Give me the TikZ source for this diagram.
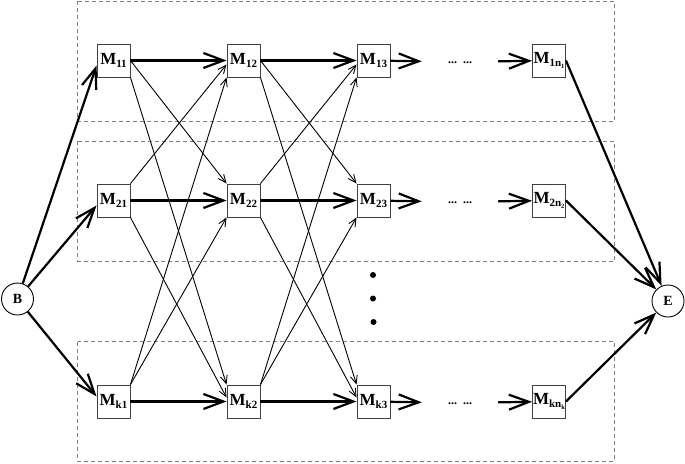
\documentclass[tikz,border=0pt]{standalone}
\usepackage{fontspec}
\setmainfont{Liberation Serif}
\usetikzlibrary{arrows.meta}

\newcommand{\Mlab}[1]{M\raisebox{-3pt}{\fontsize{11}{11}\selectfont #1}}
\newcommand{\nsub}[1]{n\raisebox{-2pt}{\fontsize{6.5}{6.5}\selectfont #1}}

\begin{document}
\begin{tikzpicture}[x=1pt, y=-1pt]
    % Define styles
    \tikzstyle{mbox} = [rectangle, draw=black!75, line width=0.9pt, minimum size=33pt, inner sep=0pt, font=\bfseries\fontsize{17}{17}\selectfont]
    \tikzstyle{endpt} = [circle, draw, line width=0.9pt, minimum size=32pt, inner sep=0pt, font=\bfseries\fontsize{14}{14}\selectfont]
    \tikzstyle{bigdot} = [circle, fill, inner sep=0pt, minimum size=6pt]
    \tikzstyle{gap} = [inner sep=0pt, minimum width=76pt, minimum height=10pt, font=\bfseries\fontsize{12}{12}\selectfont]
    \tikzstyle{group} = [draw=black!50, line width=0.7pt, dash pattern=on 4pt off 3pt]
    \tikzstyle{thickarrow} = [line width=2.2pt, -{Straight Barb[length=20pt, width=15pt]}]
    \tikzstyle{thinarrow} = [line width=0.9pt, -{Straight Barb[length=8pt, width=7pt]}]

    \useasboundingbox (0,0) rectangle (685,463);

    % Dashed groups
    \draw [group] (77.5,1) rectangle (614,121);
    \draw [group] (77.5,141) rectangle (614,261);
    \draw [group] (77.5,341.5) rectangle (614,461);

    % Begin and end
    \node (b) [endpt] at (17.5,299) {B};
    \node (e) [endpt] at (668,301) {E};

    % First row
    \node (m11) [mbox] at (113.5,60.5) {\Mlab{11}};
    \node (m12) [mbox] at (243.5,60.5) {\Mlab{12}};
    \node (m13) [mbox] at (373.5,60.5) {\Mlab{13}};
    \node (d1) [gap] at (460,62) {\raisebox{-3pt}{...\ \ ...}};
    \node (m1n) [mbox] at (549,60.5) {\Mlab{1\nsub{1}}};

    % Second row
    \node (m21) [mbox] at (113.5,200.5) {\Mlab{21}};
    \node (m22) [mbox] at (243.5,200.5) {\Mlab{22}};
    \node (m23) [mbox] at (373.5,200.5) {\Mlab{23}};
    \node (d2) [gap] at (460,202) {\raisebox{-3pt}{...\ \ ...}};
    \node (m2n) [mbox] at (549,200.5) {\Mlab{2\nsub{2}}};

    % Vertical dots
    \node (v1) [bigdot] at (373,275) {};
    \node (v2) [bigdot] at (373,298.5) {};
    \node (v3) [bigdot] at (373.5,322) {};

    % Last row
    \node (mk1) [mbox] at (113.5,401.5) {\Mlab{k1}};
    \node (mk2) [mbox] at (243.5,401.5) {\Mlab{k2}};
    \node (mk3) [mbox] at (373.5,401.5) {\Mlab{k3}};
    \node (dk) [gap] at (460,403) {\raisebox{-3pt}{...\ \ ...}};
    \node (mkn) [mbox] at (549,401.5) {\Mlab{k\nsub{k}}};

    % From B
    \draw [thickarrow] (b) -- ([yshift=-5pt]m11.west);
    \draw [thickarrow] (b) -- ([yshift=-5pt]m21.west);
    \draw [thickarrow] (b) -- ([yshift=5pt]mk1.west);

    % Row arrows
    \draw [thickarrow] (m11) -- (m12);
    \draw [thickarrow] (m12) -- (m13);
    \draw [thickarrow] (m13) -- (d1);
    \draw [thickarrow] (d1) -- (m1n);
    \draw [thickarrow] (m21) -- (m22);
    \draw [thickarrow] (m22) -- (m23);
    \draw [thickarrow] (m23) -- (d2);
    \draw [thickarrow] (d2) -- (m2n);
    \draw [thickarrow] (mk1) -- (mk2);
    \draw [thickarrow] (mk2) -- (mk3);
    \draw [thickarrow] (mk3) -- (dk);
    \draw [thickarrow] (dk) -- (mkn);

    % Cross arrows, first to second column
    \draw [thinarrow] (m11.east) -- (m22.north west);
    \draw [thinarrow] (m11.south east) -- (mk2.north west);
    \draw [thinarrow] (m21.north east) -- ([yshift=-4pt]m12.west);
    \draw [thinarrow] (m21.south east) -- ([yshift=4pt]mk2.west);
    \draw [thinarrow] (mk1.north east) -- (m12.south west);
    \draw [thinarrow] (mk1.north east) -- (m22.south west);

    % Cross arrows, second to third column
    \draw [thinarrow] (m12.east) -- (m23.north west);
    \draw [thinarrow] (m12.south east) -- (mk3.north west);
    \draw [thinarrow] (m22.north east) -- ([yshift=-4pt]m13.west);
    \draw [thinarrow] (m22.south east) -- ([yshift=4pt]mk3.west);
    \draw [thinarrow] (mk2.north east) -- (m13.south west);
    \draw [thinarrow] (mk2.north east) -- (m23.south west);

    % To E
    \draw [thickarrow] (m1n.east) -- (e);
    \draw [thickarrow] (m2n.east) -- (e);
    \draw [thickarrow] (mkn.east) -- (e);

\end{tikzpicture}
\end{document}
